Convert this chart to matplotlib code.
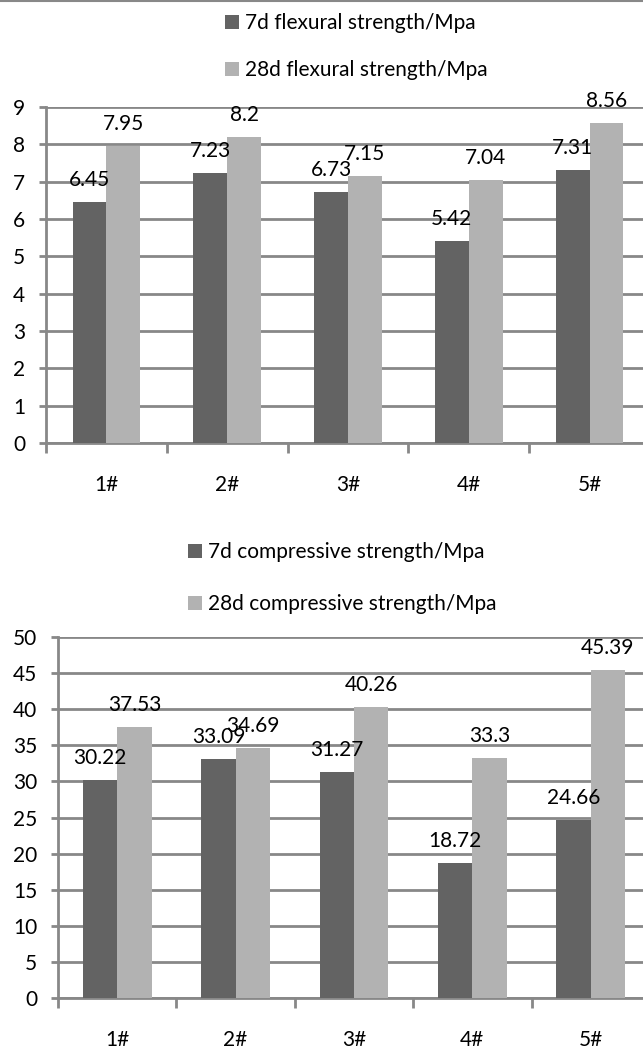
import matplotlib.pyplot as plt
from matplotlib.lines import Line2D

plt.rcParams['font.family'] = ['Lato', 'DejaVu Sans']

groups = ['1#', '2#', '3#', '4#', '5#']
flex_7d = [6.45, 7.23, 6.73, 5.42, 7.31]
flex_28d = [7.95, 8.2, 7.15, 7.04, 8.56]
comp_7d = [30.22, 33.09, 31.27, 18.72, 24.66]
comp_28d = [37.53, 34.69, 40.26, 33.3, 45.39]

dark = '#636363'
light = '#b2b2b2'
grid = '#888888'
fs = 15
lw = 2.0

W, H = 643, 1048
fig = plt.figure(figsize=(W / 100, H / 100), dpi=100)

# thin border line at the very top of the picture
fig.add_artist(Line2D([0, 1], [1 - 1 / H, 1 - 1 / H], color=grid, lw=1.5))


def draw(rect, s1, s2, names, ymax, step, bw, legend_xy, legend_sp):
    ax = fig.add_axes(rect)
    x = list(range(len(groups)))
    b1 = ax.bar([i - bw / 2 for i in x], s1, bw, color=dark, zorder=3, label=names[0])
    b2 = ax.bar([i + bw / 2 for i in x], s2, bw, color=light, zorder=3, label=names[1])
    for bars, vals in ((b1, s1), (b2, s2)):
        for r, v in zip(bars, vals):
            ax.annotate(f'{v:g}', (r.get_x() + r.get_width() / 2, v),
                        xytext=(0, 16), textcoords='offset pixels',
                        ha='center', va='baseline', fontsize=fs, zorder=4)
    ax.set_xlim(-0.5, 4.5)
    ax.set_ylim(0, ymax)
    ax.set_yticks(range(0, ymax + 1, step))
    ax.set_xticks(x)
    ax.set_xticklabels(groups)
    ax.set_xticks([i - 0.5 for i in range(6)], minor=True)
    ax.tick_params(axis='x', which='major', length=0, pad=23, labelsize=fs)
    ax.tick_params(axis='x', which='minor', length=7, width=lw, color=grid)
    ax.tick_params(axis='y', length=5, width=lw, color=grid, pad=10, labelsize=fs)
    ax.yaxis.grid(True, color=grid, lw=lw, zorder=1)
    for sp in ('top', 'right'):
        ax.spines[sp].set_visible(False)
    for sp in ('left', 'bottom'):
        ax.spines[sp].set_color(grid)
        ax.spines[sp].set_linewidth(lw)
    fig.legend(handles=[b1, b2], labels=names, loc='upper left',
               bbox_to_anchor=legend_xy, frameon=False, fontsize=fs,
               handlelength=0.65, handleheight=0.65, handletextpad=0.3,
               labelspacing=legend_sp, borderaxespad=0, borderpad=0)
    return ax


draw([46 / W, 1 - 443 / H, 604 / W, 336 / H], flex_7d, flex_28d,
     ['7d flexural strength/Mpa', '28d flexural strength/Mpa'],
     9, 1, 0.28, (225 / W, 1 - 13 / H), 1.3)

draw([58 / W, 1 - 998 / H, 592 / W, 361 / H], comp_7d, comp_28d,
     ['7d compressive strength/Mpa', '28d compressive strength/Mpa'],
     50, 5, 0.29, (188 / W, 1 - 542 / H), 1.55)

fig.savefig('out.png', dpi=100)
